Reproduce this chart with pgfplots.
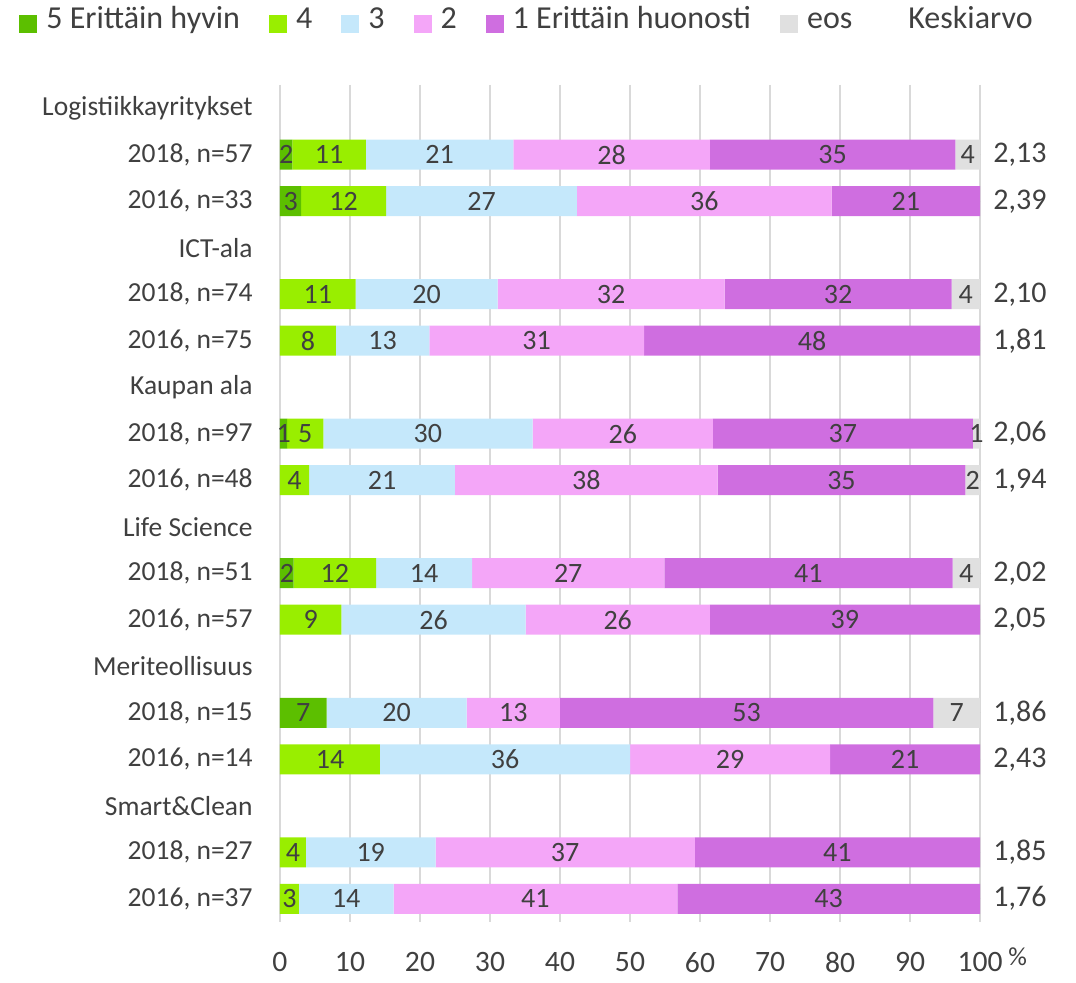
\documentclass[border=0pt]{standalone}
\usepackage{pgfplots}
\pgfplotsset{compat=1.18}
\usepackage{pgfplotstable}
\usepackage{fontspec}
\setmainfont{Carlito}
\definecolor{c5}{HTML}{5CBF00}
\definecolor{c4}{HTML}{99EE00}
\definecolor{c3}{HTML}{C5E8FB}
\definecolor{c2}{HTML}{F4A6F8}
\definecolor{c1}{HTML}{CF6EE0}
\definecolor{ceos}{HTML}{E0E0E0}
\definecolor{tg}{HTML}{404040}
\definecolor{gridc}{HTML}{D9D9D9}

\pgfplotstableread{
r v5 v4 v3 v2 v1 eos
1 1.754 10.526 21.053 28.070 35.088 3.509
2 3.030 12.121 27.273 36.364 21.212 0
4 0 10.811 20.270 32.432 32.432 4.054
5 0 8.000 13.333 30.667 48.000 0
7 1.031 5.155 29.897 25.773 37.113 1.031
8 0 4.167 20.833 37.500 35.417 2.083
10 1.961 11.765 13.725 27.451 41.176 3.922
11 0 8.772 26.316 26.316 38.596 0
13 6.667 0 20.000 13.333 53.333 6.667
14 0 14.286 35.714 28.571 21.429 0
16 0 3.704 18.519 37.037 40.741 0
17 0 2.703 13.514 40.541 43.243 0
}\data

\pgfplotstableread{
x y lab
0.877 1 2
7.017 1 11
22.807 1 21
47.368 1 28
78.947 1 35
98.246 1 4
1.515 2 3
9.091 2 12
28.788 2 27
60.606 2 36
89.394 2 21
5.405 4 11
20.946 4 20
47.297 4 32
79.730 4 32
97.973 4 4
4.000 5 8
14.667 5 13
36.667 5 31
76.000 5 48
0.515 7 1
3.608 7 5
21.134 7 30
48.969 7 26
80.412 7 37
99.485 7 1
2.083 8 4
14.583 8 21
43.750 8 38
80.208 8 35
98.958 8 2
0.980 10 2
7.843 10 12
20.588 10 14
41.176 10 27
75.490 10 41
98.039 10 4
4.386 11 9
21.930 11 26
48.246 11 26
80.702 11 39
3.333 13 7
16.667 13 20
33.333 13 13
66.667 13 53
96.667 13 7
7.143 14 14
32.143 14 36
64.286 14 29
89.286 14 21
1.852 16 4
12.963 16 19
40.741 16 37
79.630 16 41
1.351 17 3
9.459 17 14
36.486 17 41
78.378 17 43
}\labs

\pgfplotstableread{
x y lab
100 1 2,13
100 2 2,39
100 4 2,10
100 5 1,81
100 7 2,06
100 8 1,94
100 10 2,02
100 11 2,05
100 13 1,86
100 14 2,43
100 16 1,85
100 17 1,76
}\avgs

\begin{document}
\begin{tikzpicture}
\path[use as bounding box] (-140pt,-30.5pt) rectangle (398pt,461pt);
\begin{axis}[
  width=350pt, height=418.5pt, scale only axis,
  at={(0,0)}, anchor=south west,
  xmin=0, xmax=100, ymin=-0.5, ymax=17.5, y dir=reverse,
  xbar stacked, bar width=15pt,
  axis line style={draw=none}, major tick length=0pt,
  xmajorgrids, grid style={gridc, line width=1pt},
  xtick={0,10,...,100},
  ytick={0,...,17},
  yticklabels={Logistiikkayritykset,{2018, n=57},{2016, n=33},ICT-ala,{2018, n=74},{2016, n=75},Kaupan ala,{2018, n=97},{2016, n=48},Life Science,{2018, n=51},{2016, n=57},Meriteollisuus,{2018, n=15},{2016, n=14},Smart\&Clean,{2018, n=27},{2016, n=37}},
  /pgf/number format/assume math mode=true,
  yticklabel style={font=\fontsize{13.75}{16}\selectfont, text=tg, inner sep=0pt, xshift=-13.5pt},
  xticklabel style={font=\fontsize{14.8}{17}\selectfont, text=tg, inner sep=0pt, anchor=north, yshift=-15pt},
  legend style={at={(-0.3729,1.0729)}, anchor=west, draw=none, fill=none, inner sep=0pt,
    font=\fontsize{16}{18}\selectfont, text=tg,
    nodes={text height=0.72em, text depth=0.22em},
    /tikz/every even column/.append style={column sep=12.5pt}},
  legend columns=-1,
  legend image code/.code={\fill[#1] (0pt,-4.5pt) rectangle (9pt,4.5pt); \path[draw=none,fill=none] (0pt,0pt) -- (11.5pt,0pt);},
]
\addplot[fill=c5, draw=none] table[x=v5, y=r]{\data};
\addlegendentry{5 Erittäin hyvin}
\addplot[fill=c4, draw=none] table[x=v4, y=r]{\data};
\addlegendentry{4}
\addplot[fill=c3, draw=none] table[x=v3, y=r]{\data};
\addlegendentry{3}
\addplot[fill=c2, draw=none] table[x=v2, y=r]{\data};
\addlegendentry{2}
\addplot[fill=c1, draw=none] table[x=v1, y=r]{\data};
\addlegendentry{1 Erittäin huonosti}
\addplot[fill=ceos, draw=none] table[x=eos, y=r]{\data};
\addlegendentry{eos}
\addlegendimage{legend image code/.code={\path[draw=none,fill=none] (0pt,-4.5pt) rectangle (11.5pt,4.5pt);}}
\addlegendentry{Keskiarvo}
\end{axis}
\begin{axis}[
  width=350pt, height=418.5pt, scale only axis,
  at={(0,0)}, anchor=south west,
  xmin=0, xmax=100, ymin=-0.5, ymax=17.5, y dir=reverse,
  hide axis, clip=false,
]
\addplot[only marks, mark=*, mark size=0pt, mark options={draw=none, fill=none},
  nodes near coords, point meta=explicit symbolic,
  every node near coord/.append style={anchor=center, inner sep=0pt, text=tg, font=\fontsize{14}{16}\selectfont}]
  table[x=x, y=y, meta=lab]{\labs};
\addplot[only marks, mark=*, mark size=0pt, mark options={draw=none, fill=none},
  nodes near coords, point meta=explicit symbolic,
  every node near coord/.append style={anchor=west, xshift=6.5pt, inner sep=0pt, text=tg, font=\fontsize{15}{17}\selectfont}]
  table[x=x, y=y, meta=lab]{\avgs};
\node[anchor=west, inner sep=0pt, text=tg, font=\fontsize{13}{15}\selectfont] at ([xshift=14pt,yshift=-17.5pt]rel axis cs:1,0) {\%};
\end{axis}
\end{tikzpicture}
\end{document}
